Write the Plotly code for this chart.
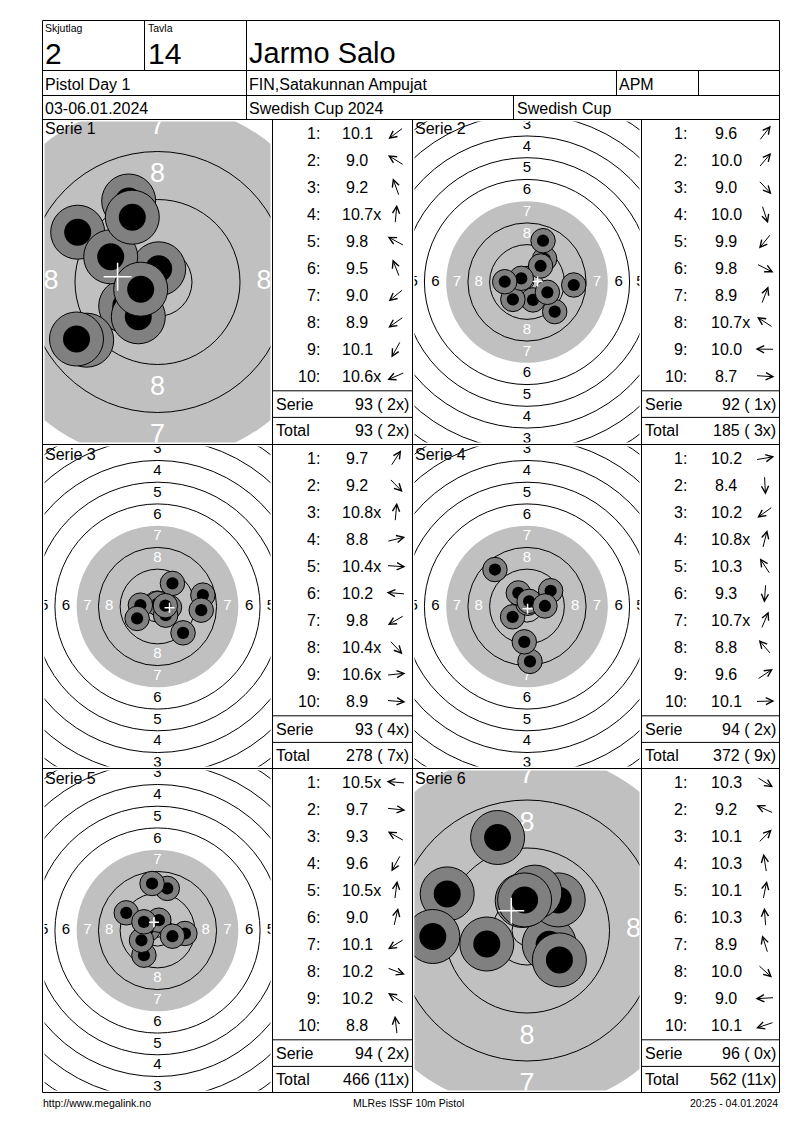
import math
import plotly.graph_objects as go

W, H = 800, 1130
FONT = "Liberation Sans, Arial, sans-serif"

# === Header ===
shoot_group = "2"
lane = "14"
shooter_name = "Jarmo Salo"
match_name = "Pistol Day 1"
club = "FIN,Satakunnan Ampujat"
shooter_class = "APM"
match_dates = "03-06.01.2024"
competition = "Swedish Cup 2024"
cup_name = "Swedish Cup"
footer_left = "http://www.megalink.no"
footer_mid = "MLRes ISSF 10m Pistol"
footer_right = "20:25 - 04.01.2024"

# === Shots: score as printed, position in mm from target centre (x right, y up) ===
s1_scores = ["10.1", "9.0", "9.2", "10.7x", "9.8", "9.5", "9.0", "8.9", "10.1", "10.6x"]
s1_x = [-5.3, -13.3, -4.8, 0.2, -7.8, -4.2, -11.8, -13.5, -3.2, -2.8]
s1_y = [-4.0, 8.3, 13.5, 2.2, 4.2, 10.8, -9.7, -9.5, -5.8, -1.2]

s2_scores = ["9.6", "10.0", "9.0", "10.0", "9.9", "9.8", "8.9", "10.7x", "10.0", "8.7"]
s2_x = [6.5, 5.0, 10.2, 2.2, -5.2, 7.5, 5.9, -2.1, -8.2, 17.2]
s2_y = [8.5, 5.9, -10.9, -6.6, -6.4, -3.8, 15.2, 1.35, 0.1, -1.1]

s3_scores = ["9.7", "9.2", "10.8x", "8.8", "10.4x", "10.2", "9.8", "10.4x", "10.6x", "8.9"]
s3_x = [5.5, 9.4, 0.1, 16.7, 4.4, -6.3, -7.5, 3.0, 2.9, 16.1]
s3_y = [8.5, -9.7, 1.1, 4.2, -0.3, 0.5, -4.4, -3.2, 0.3, -1.35]

s4_scores = ["10.2", "8.4", "10.2", "10.8x", "10.3", "9.3", "10.7x", "8.8", "9.6", "10.1"]
s4_x = [5.9, 1.1, -5.3, 0.3, -3.2, -1.0, 0.8, -11.8, 8.7, 6.6]
s4_y = [1.0, -20.2, -3.8, 1.2, 5.0, -13.0, 1.9, 13.6, 5.8, 0.2]

s5_scores = ["10.5x", "9.7", "9.3", "9.6", "10.5x", "9.0", "10.1", "10.2", "10.2", "8.8"]
s5_x = [-3.6, 10.1, -11.5, -5.0, 0.5, 3.6, -5.9, 5.5, -5.0, -2.0]
s5_y = [0.3, -1.1, 6.5, -9.1, 3.8, 15.5, -3.6, -2.1, 3.2, 17.3]

s6_scores = ["10.3", "9.2", "10.1", "10.3", "10.1", "10.3", "8.9", "10.0", "9.0", "10.1"]
s6_x = [3.7, -13.3, 5.2, -0.8, 1.3, -0.4, -4.9, 5.4, -15.7, -6.7]
s6_y = [-2.3, 6.1, 5.1, 5.0, 6.4, 5.1, 15.5, -4.9, -1.0, -2.25]

series = [(s1_scores, s1_x, s1_y), (s2_scores, s2_x, s2_y), (s3_scores, s3_x, s3_y),
          (s4_scores, s4_x, s4_y), (s5_scores, s5_x, s5_y), (s6_scores, s6_x, s6_y)]

# === ISSF 10m air pistol target (mm) ===
ring_numbers = [1, 2, 3, 4, 5, 6, 7, 8, 9, 10]
ring_radius = [77.75, 69.75, 61.75, 53.75, 45.75, 37.75, 29.75, 21.75, 13.75, 5.75]
inner_ten_radius = 2.5
black_radius = 29.75
shot_halo_mm = 4.5
pellet_mm = 2.25

# display scale per series (px per mm)
zoom = [6.0, 2.717, 2.717, 2.717, 2.717, 6.0]
label_size = [27, 15, 15, 15, 15, 27]
cross_px = [14, 5, 5, 5, 5, 13]

# === Page grid (pixels) ===
col_x = [42.5, 272.5, 412.5, 641.5, 779.5]
row_y = [119.5, 444.5, 768.5, 1092.5]

shapes, annotations = [], []


def px(x):
    return x / W


def py(y):
    return 1 - y / H


def line(x0, y0, x1, y1):
    shapes.append(dict(type="line", xref="paper", yref="paper", x0=px(x0), y0=py(y0),
                       x1=px(x1), y1=py(y1), line=dict(color="black", width=1), layer="above"))


def text(x, y, s, size, anchor="left", color="black"):
    annotations.append(dict(xref="paper", yref="paper", x=px(x), y=py(y), text=s, showarrow=False,
                            xanchor=anchor, yanchor="middle", borderpad=0,
                            font=dict(family=FONT, size=size, color=color)))


# === Header boxes ===
for y in [20.5, 70.5, 95.5] + row_y:
    line(col_x[0], y, col_x[-1], y)
line(col_x[0], 20.5, col_x[0], row_y[-1])
line(col_x[-1], 20.5, col_x[-1], row_y[-1])
for x in col_x[1:4]:
    line(x, row_y[0], x, row_y[-1])
line(144.5, 20.5, 144.5, 70.5)
line(246.5, 20.5, 246.5, 119.5)
line(616.5, 70.5, 616.5, 95.5)
line(698.5, 70.5, 698.5, 95.5)
line(513.5, 95.5, 513.5, 119.5)

text(44, 28, "Skjutlag", 10.5)
text(146.5, 28, "Tavla", 10.5)
text(43.5, 53, shoot_group, 30)
text(146.5, 53, lane, 30)
text(248, 53, shooter_name, 29)
text(43.5, 84.5, match_name, 16)
text(248, 84.5, club, 16)
text(618, 84.5, shooter_class, 16)
text(43.5, 108.5, match_dates, 16)
text(248, 108.5, competition, 16)
text(515.5, 108.5, cup_name, 16)

text(42, 1103, footer_left, 10.5)
text(408, 1103, footer_mid, 10.5, "center")
text(779, 1103, footer_right, 10.5, "right")

fig = go.Figure()
axes = {}
total, total_x = 0, 0

for i, (scores, xs, ys) in enumerate(series):
    r, c = divmod(i, 2)
    a, b = col_x[2 * c], col_x[2 * c + 1]
    L, R = col_x[2 * c + 1], col_x[2 * c + 2]
    top, bot = row_y[r], row_y[r + 1]
    s = zoom[i]
    cx, cy = (a + b) / 2, (top + bot) / 2
    n = i + 1
    xa, ya = ("x", "y") if n == 1 else (f"x{n}", f"y{n}")
    key = "" if n == 1 else str(n)
    axes[f"xaxis{key}"] = dict(domain=[px(a + 2), px(b - 2)], range=[(a + 2 - cx) / s, (b - 2 - cx) / s],
                               visible=False, fixedrange=True)
    axes[f"yaxis{key}"] = dict(domain=[py(bot - 2), py(top + 2)], range=[(cy - (bot - 2)) / s, (cy - (top + 2)) / s],
                               visible=False, fixedrange=True)

    # target: black area (grey here) and ring lines
    shapes.append(dict(type="circle", xref=xa, yref=ya, x0=-black_radius, x1=black_radius,
                       y0=-black_radius, y1=black_radius, fillcolor="#c0c0c0", line=dict(width=0), layer="below"))
    for num, rad in zip(ring_numbers, ring_radius):
        if rad == black_radius:
            continue
        shapes.append(dict(type="circle", xref=xa, yref=ya, x0=-rad, x1=rad, y0=-rad, y1=rad,
                           line=dict(color="black", width=1), layer="below"))
    shapes.append(dict(type="circle", xref=xa, yref=ya, x0=-inner_ten_radius, x1=inner_ten_radius,
                       y0=-inner_ten_radius, y1=inner_ten_radius, line=dict(color="black", width=1), layer="below"))

    # ring numbers 1-8
    lx, ly, lt, lc = [], [], [], []
    for num, rad in zip(ring_numbers, ring_radius):
        if num > 8:
            continue
        m = rad - 4
        for dx, dy in [(0, m), (0, -m), (-m, 0), (m, 0)]:
            lx.append(dx)
            ly.append(dy)
            lt.append(str(num))
            lc.append("white" if rad <= black_radius else "black")
    fig.add_trace(go.Scatter(x=lx, y=ly, text=lt, mode="text", xaxis=xa, yaxis=ya, hoverinfo="skip",
                             textfont=dict(family=FONT, size=label_size[i], color=lc), showlegend=False))

    # shots, in shooting order: halo then pellet
    sx, sy, ss, sc, sw = [], [], [], [], []
    for x, y in zip(xs, ys):
        sx += [x, x]
        sy += [y, y]
        ss += [2 * shot_halo_mm * s, 2 * pellet_mm * s]
        sc += ["#808080", "black"]
        sw += [1, 0]
    fig.add_trace(go.Scatter(x=sx, y=sy, mode="markers", xaxis=xa, yaxis=ya, hoverinfo="skip", showlegend=False,
                             marker=dict(size=ss, color=sc, line=dict(color="black", width=sw), opacity=1)))

    # mean point of impact
    mx, my = sum(xs) / len(xs), sum(ys) / len(ys)
    h = cross_px[i] / s
    for x0, y0, x1, y1 in [(mx - h, my, mx + h, my), (mx, my - h, mx, my + h)]:
        shapes.append(dict(type="line", xref=xa, yref=ya, x0=x0, y0=y0, x1=x1, y1=y1,
                           line=dict(color="white", width=1.5), layer="above"))

    text(a + 1, top + 9.5, f"Serie {n}", 16)

    # score table
    colon_x = L + (48 if c == 0 else 46)
    for j, (sc_txt, x, y) in enumerate(zip(scores, xs, ys)):
        yy = top + 13.7 + 27 * j
        text(colon_x, yy, f"{j + 1}:", 16, "right")
        num = sc_txt.rstrip("x")
        w = 16 * (0.556 * (len(num) - 1) + 0.278)
        text(L + 84 - w / 2, yy, sc_txt, 16)
        th = math.atan2(y, x)
        hx = L + 123.5 + 9.5 * math.cos(th)
        hy = yy - 9.5 * math.sin(th)
        annotations.append(dict(xref="paper", yref="paper", x=px(hx), y=py(hy), text="", showarrow=True,
                                ax=-19 * math.cos(th), ay=19 * math.sin(th), arrowhead=5, arrowsize=1.4,
                                arrowwidth=1, arrowcolor="black", standoff=0, startstandoff=0))

    serie = sum(int(float(v.rstrip("x"))) for v in scores)
    inner = sum(v.endswith("x") for v in scores)
    total += serie
    total_x += inner
    line(L, top + 271.3, R, top + 271.3)
    line(L, top + 297.9, R, top + 297.9)
    text(L + 2.5, top + 284.6, "Serie", 16)
    text(R - 2.5, top + 284.6, f"{serie} ({inner:2d}x)", 16, "right")
    text(L + 2.5, top + 311, "Total", 16)
    text(R - 2.5, top + 311, f"{total} ({total_x:2d}x)", 16, "right")

fig.update_layout(width=W, height=H, autosize=False, margin=dict(l=0, r=0, t=0, b=0),
                  paper_bgcolor="white", plot_bgcolor="white", showlegend=False,
                  shapes=shapes, annotations=annotations, **axes)

fig.write_html("out.html", config={"displayModeBar": False},
               post_script="document.body.style.margin='0';")
